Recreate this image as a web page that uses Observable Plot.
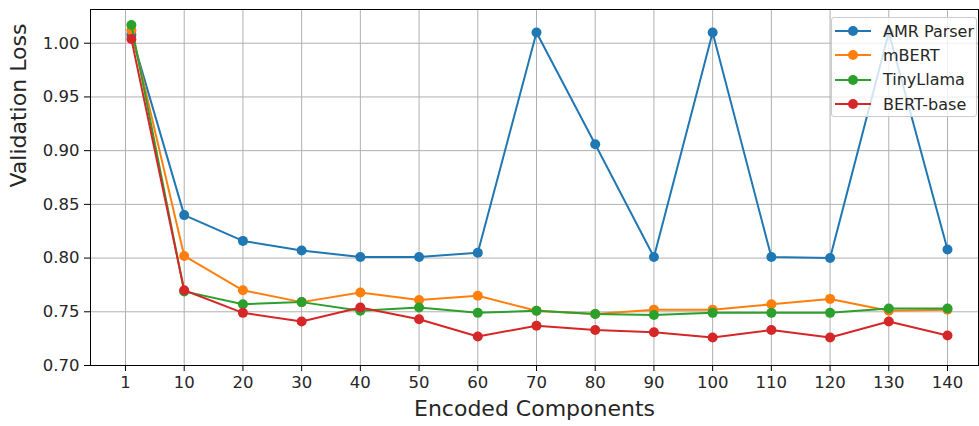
<!DOCTYPE html>
<html>
<head>
<meta charset="utf-8">
<script src="https://cdn.jsdelivr.net/npm/d3@7"></script>
<script src="https://cdn.jsdelivr.net/npm/@observablehq/plot@0.6"></script>
<style>
  body { margin: 0; background: #fff; font-family: "DejaVu Sans", sans-serif; }
  #wrap { position: relative; width: 979px; height: 426px; overflow: hidden; }
  #legend {
    position: absolute; left: 831px; top: 17px; width: 146px; height: 100px;
    border: 1px solid #cccccc; border-radius: 3px; background: rgba(255,255,255,0.8);
    box-sizing: border-box; padding-top: 1px;
  }
  .row { display: flex; align-items: center; height: 24.3px; font-size: 16px; color: #262626; }
  .row svg { margin-left: 3px; margin-right: 12px; }
</style>
</head>
<body>
<div id="wrap"><div id="legend"></div></div>
<script>
// Categories (tick labels) and their plotted positions
const components = ["1", "10", "20", "30", "40", "50", "60", "70", "80", "90", "100", "110", "120", "130", "140"];
const positions = [0.1, 1, 2, 3, 4, 5, 6, 7, 8, 9, 10, 11, 12, 13, 14];
const tickPositions = [0, 1, 2, 3, 4, 5, 6, 7, 8, 9, 10, 11, 12, 13, 14];
const yTicks = [0.70, 0.75, 0.80, 0.85, 0.90, 0.95, 1.00];

const seriesNames = ["AMR Parser", "mBERT", "TinyLlama", "BERT-base"];
const seriesColors = ["#1f77b4", "#ff7f0e", "#2ca02c", "#d62728"];

const amrParser = [1.008, 0.840, 0.816, 0.807, 0.801, 0.801, 0.805, 1.010, 0.906, 0.801, 1.010, 0.801, 0.800, 1.010, 0.808];
const mBERT     = [1.012, 0.802, 0.770, 0.759, 0.768, 0.761, 0.765, 0.751, 0.748, 0.752, 0.752, 0.757, 0.762, 0.751, 0.752];
const tinyLlama = [1.017, 0.769, 0.757, 0.759, 0.751, 0.754, 0.749, 0.751, 0.748, 0.747, 0.749, 0.749, 0.749, 0.753, 0.753];
const bertBase  = [1.004, 0.770, 0.749, 0.741, 0.754, 0.743, 0.727, 0.737, 0.733, 0.731, 0.726, 0.733, 0.726, 0.741, 0.728];

const seriesValues = [amrParser, mBERT, tinyLlama, bertBase];

const data = [];
seriesNames.forEach((name, s) => {
  seriesValues[s].forEach((v, i) => data.push({series: name, x: positions[i], y: v}));
});

const seriesMarks = [];
seriesNames.forEach((name, s) => {
  const d = data.filter(r => r.series === name);
  seriesMarks.push(Plot.line(d, {x: "x", y: "y", stroke: seriesColors[s], strokeWidth: 2}));
  seriesMarks.push(Plot.dot(d, {x: "x", y: "y", fill: seriesColors[s], r: 5, stroke: "none"}));
});

const chart = Plot.plot({
  width: 979,
  height: 426,
  marginLeft: 90,
  marginRight: 1,
  marginTop: 9,
  marginBottom: 61,
  style: {fontFamily: "DejaVu Sans, sans-serif", background: "transparent", color: "#262626"},
  x: {type: "linear", domain: [-0.596, 14.528]},
  y: {domain: [0.70, 1.0314]},
  marks: [
    Plot.gridX(tickPositions, {stroke: "#b0b0b0", strokeOpacity: 1, strokeWidth: 1}),
    Plot.gridY(yTicks, {stroke: "#b0b0b0", strokeOpacity: 1, strokeWidth: 1}),
    ...seriesMarks,
    Plot.frame({stroke: "#000", strokeWidth: 1}),
    Plot.axisX(tickPositions, {
      tickFormat: i => components[i], tickSize: 6, tickPadding: 5, fontSize: 16.5, label: null, stroke: "#000"
    }),
    Plot.axisY(yTicks, {
      tickFormat: d3.format(".2f"), tickSize: 6, tickPadding: 5, fontSize: 16.5, label: null, stroke: "#000"
    }),
    Plot.text(["Encoded Components"], {frameAnchor: "bottom", dy: 50, fontSize: 22, fill: "#262626"}),
    Plot.text(["Validation Loss"], {frameAnchor: "left", dx: -72, rotate: -90, fontSize: 22, fill: "#262626"})
  ]
});

document.getElementById("wrap").insertBefore(chart, document.getElementById("legend"));

const legend = document.getElementById("legend");
seriesNames.forEach((name, s) => {
  const row = document.createElement("div");
  row.className = "row";
  row.innerHTML = `<svg width="36" height="12"><line x1="0" y1="6" x2="36" y2="6" stroke="${seriesColors[s]}" stroke-width="2"/><circle cx="18" cy="6" r="5" fill="${seriesColors[s]}"/></svg><span>${name}</span>`;
  legend.appendChild(row);
});
</script>
</body>
</html>
